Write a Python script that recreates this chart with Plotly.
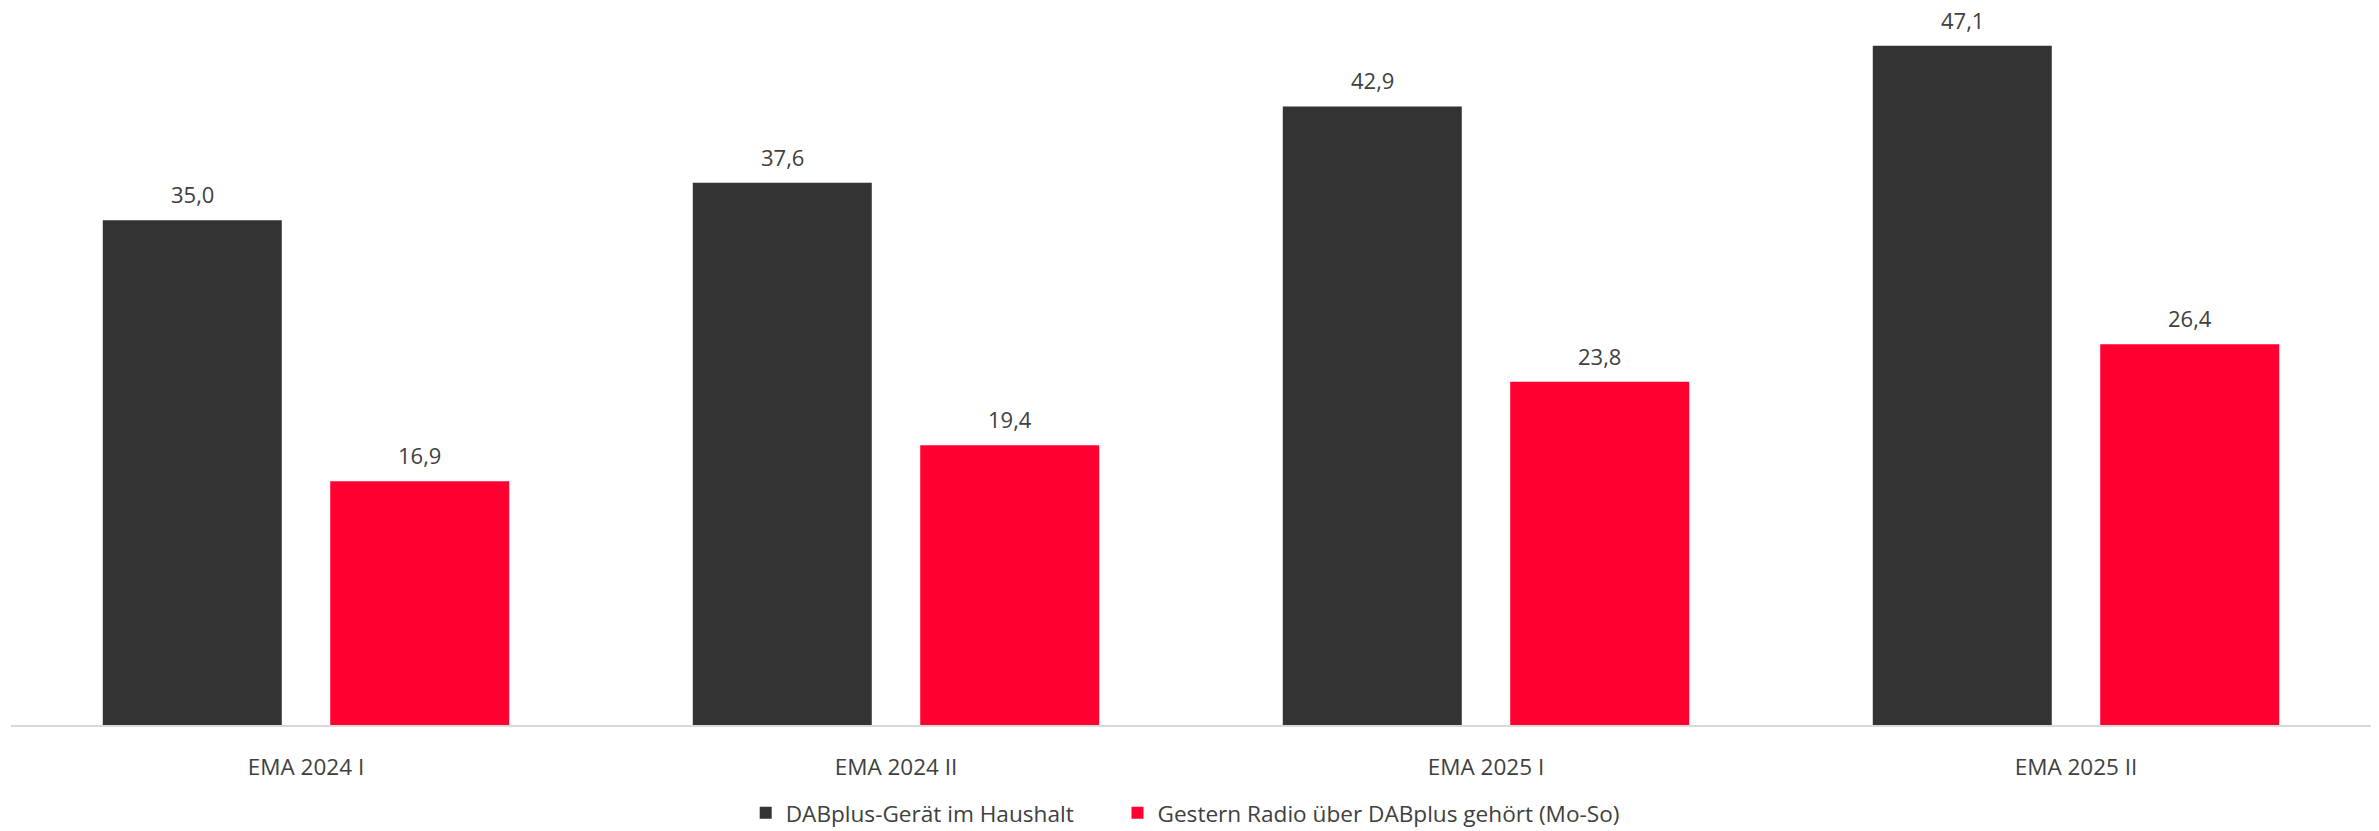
import plotly.graph_objects as go

categories = ["EMA 2024 I", "EMA 2024 II", "EMA 2025 I", "EMA 2025 II"]
series_names = ["DABplus-Gerät im Haushalt", "Gestern Radio über DABplus gehört (Mo-So)"]
geraet = [35.0, 37.6, 42.9, 47.1]
gestern = [16.9, 19.4, 23.8, 26.4]
colors = ["#333333", "#ff0030"]

FONT = "Open Sans, Noto Sans, sans-serif"
TXT = "#404040"
BARGAP = 0.229
BARGROUPGAP = 0.213
W, H = 2379, 831

def fmt(v):
    return f"{v:.1f}".replace(".", ",")

series = [geraet, gestern]
legend_ids = ["legend", "legend2"]
fig = go.Figure()
for name, vals, col, lg in zip(series_names, series, colors, legend_ids):
    fig.add_trace(go.Bar(
        x=categories, y=vals, name=name, legend=lg,
        marker=dict(color=col, line=dict(width=0)),
        hoverinfo="x+y",
    ))

# value labels above bars, positioned on the library's category axis
n = len(series)
annotations = []
for k, vals in enumerate(series):
    off = (1 - BARGAP) * ((k + 0.5) / n - 0.5)
    for i, v in enumerate(vals):
        annotations.append(dict(
            x=i + off, y=v, xref="x", yref="y", text=fmt(v), showarrow=False,
            xanchor="center", yanchor="bottom", yshift=9,
            font=dict(family=FONT, size=22, color=TXT),
        ))

legend_style = dict(orientation="h", xref="container", yref="container",
                    xanchor="left", yanchor="middle", y=(H - 813) / H,
                    bgcolor="rgba(0,0,0,0)",
                    font=dict(family=FONT, size=22.6, color=TXT), itemwidth=30)

fig.update_layout(
    width=W, height=H,
    margin=dict(l=11, r=8, t=4, b=106),
    paper_bgcolor="white", plot_bgcolor="white",
    barmode="group", bargap=BARGAP, bargroupgap=BARGROUPGAP,
    font=dict(family=FONT, size=22, color=TXT),
    showlegend=True,
    annotations=annotations,
    legend=dict(legend_style, x=(771.7 - 26) / W),
    legend2=dict(legend_style, x=(1143.5 - 26) / W),
    xaxis=dict(showline=True, linecolor="#d9d9d9", linewidth=2,
               ticks="outside", ticklen=21, tickcolor="rgba(0,0,0,0)",
               tickfont=dict(family=FONT, size=22.5, color=TXT), showgrid=False),
    yaxis=dict(range=[0, 50], visible=False, showgrid=False, zeroline=False),
)

fig.write_html("out.html", config={"displayModeBar": False},
               post_script="document.body.style.margin='0';")
